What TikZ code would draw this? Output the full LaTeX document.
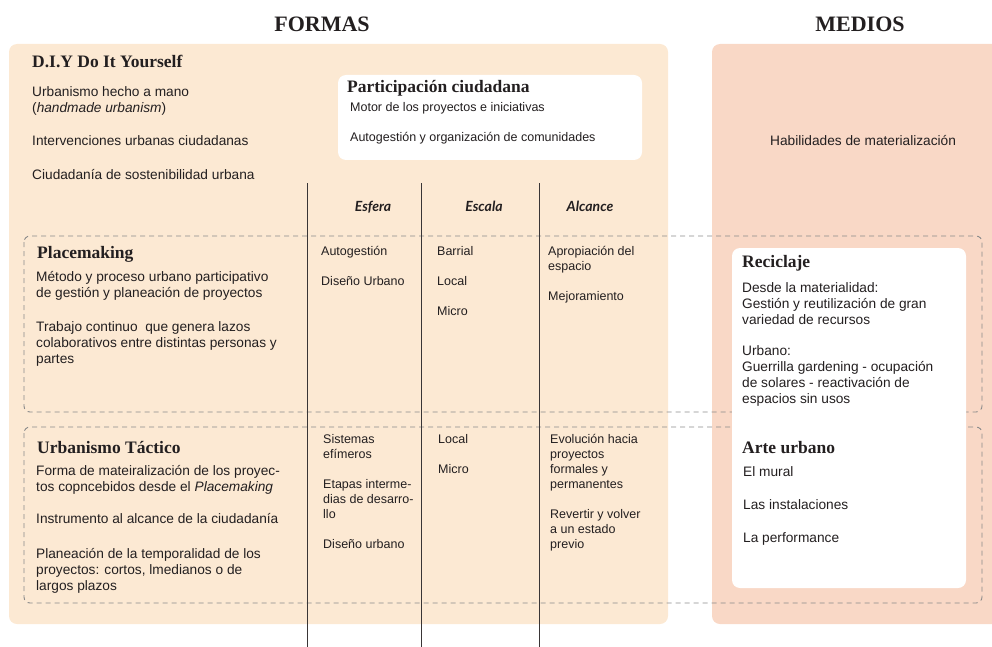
\documentclass[tikz,border=0pt]{standalone}
\usepackage{fontspec}
\setmainfont{Liberation Serif}
\setsansfont{Liberation Sans}
\newfontfamily\headfont{Lato}
\usetikzlibrary{positioning}
\definecolor{formas}{HTML}{FCE9D3}
\definecolor{medios}{HTML}{F9D8C6}
\definecolor{ink}{HTML}{231F20}
\definecolor{dashgray}{HTML}{8A8A8A}
\newcommand{\rows}[1]{\begin{tabular}[t]{@{}l@{}}#1\end{tabular}}

\begin{document}
\begin{tikzpicture}[x=1pt,y=-1pt,
  big/.style={anchor=base,inner sep=0pt,text=ink,font=\bfseries\fontsize{22}{26}\selectfont},
  title/.style={anchor=base west,inner sep=0pt,text=ink,font=\bfseries\fontsize{17.5}{20}\selectfont},
  body/.style={anchor=base west,inner sep=0pt,text=ink,font=\sffamily\fontsize{13.7}{16}\selectfont},
  cell/.style={body,font=\sffamily\fontsize{12.5}{15}\selectfont},
  head/.style={anchor=base,inner sep=0pt,text=ink,font=\headfont\bfseries\itshape\fontsize{14}{16}\selectfont},
  group/.style={draw=dashgray,line width=0.9pt,dash pattern=on 5pt off 4pt,rounded corners=6pt},
  panel/.style={rounded corners=8pt},
  divider/.style={draw=ink!90,line width=1pt}]
\useasboundingbox (0,0) rectangle (992,647);
\fill [formas,panel] (9,44) rectangle (668,624);
\fill [medios,panel] (712,44) rectangle (1004,624);
\draw [group] (24,236) rectangle (982,412);
\draw [group] (24,427) rectangle (982,603);
\fill [white,panel] (338,75) rectangle (642,160);
\fill [white,panel] (732,248) rectangle (966,588);
\coordinate (esfT) at (307,183);
\coordinate (esfB) at (307,647);
\coordinate (escT) at (421,183);
\coordinate (escB) at (421,647);
\coordinate (alcT) at (539,183);
\coordinate (alcB) at (539,647);
\draw [divider] (esfT) -- (esfB);
\draw [divider] (escT) -- (escB);
\draw [divider] (alcT) -- (alcB);
\node [big] (formas) at (322,32) {FORMAS};
\node [big] (medios) at (860,32) {MEDIOS};
\node [title] (diy) at (32,68) {D.I.Y Do It Yourself};
\node [body] (diyA) at (32,97) {\rows{Urbanismo hecho a mano\\(\textit{handmade urbanism})}};
\node [body] (diyB) at (32,146) {Intervenciones urbanas ciudadanas};
\node [body] (diyC) at (32,179) {Ciudadanía de sostenibilidad urbana};
\node [title] (part) at (347,93) {Participación ciudadana};
\node [cell] (partA) at (350,112) {Motor de los proyectos e iniciativas};
\node [cell] (partB) at (350,142) {Autogestión y organización de comunidades};
\node [head] (esfera) at (373,211) {Esfera};
\node [head] (escala) at (484,211) {Escala};
\node [head] (alcance) at (590,211) {Alcance};
\node [title] (place) at (37,258) {Placemaking};
\node [body] (placeA) at (36,281) {\rows{Método y proceso urbano participativo\\de gestión y planeación de proyectos}};
\node [body] (placeB) at (36,331) {\rows{Trabajo continuo\ \ que genera lazos\\colaborativos entre distintas personas y\\partes}};
\node [cell] (placeEsf) at (321,255) {\rows{Autogestión\\ \\Diseño Urbano}};
\node [cell] (placeEsc) at (437,255) {\rows{Barrial\\ \\Local\\ \\Micro}};
\node [cell] (placeAlc) at (548,255) {\rows{Apropiación del\\espacio\\ \\Mejoramiento}};
\node [title] (tact) at (37,453) {Urbanismo Táctico};
\node [body] (tactA) at (36,475) {\rows{Forma de mateiralización de los proyec-\\tos copncebidos desde el \textit{Placemaking}}};
\node [body] (tactB) at (36,523) {Instrumento al alcance de la ciudadanía};
\node [body] (tactC) at (36,558) {\rows{Planeación de la temporalidad de los\\proyectos: cortos, lmedianos o de\\largos plazos}};
\node [cell] (tactEsf) at (323,443) {\rows{Sistemas\\efímeros\\ \\Etapas interme-\\dias de desarro-\\llo\\ \\Diseño urbano}};
\node [cell] (tactEsc) at (438,443) {\rows{Local\\ \\Micro}};
\node [cell] (tactAlc) at (550,443) {\rows{Evolución hacia\\proyectos\\formales y\\permanentes\\ \\Revertir y volver\\a un estado\\previo}};
\node [body] (habil) at (770,146) {Habilidades de materialización};
\node [title] (recic) at (742,267) {Reciclaje};
\node [body] (recicA) at (742,292) {\rows{Desde la materialidad:\\Gestión y reutilización de gran\\variedad de recursos}};
\node [body] (recicB) at (742,355) {\rows{Urbano:\\Guerrilla gardening - ocupación\\de solares - reactivación de\\espacios sin usos}};
\node [title] (arte) at (742,453) {Arte urbano};
\node [body] (arteA) at (743,476) {El mural};
\node [body] (arteB) at (743,509) {Las instalaciones};
\node [body] (arteC) at (743,542) {La performance};
\end{tikzpicture}
\end{document}
